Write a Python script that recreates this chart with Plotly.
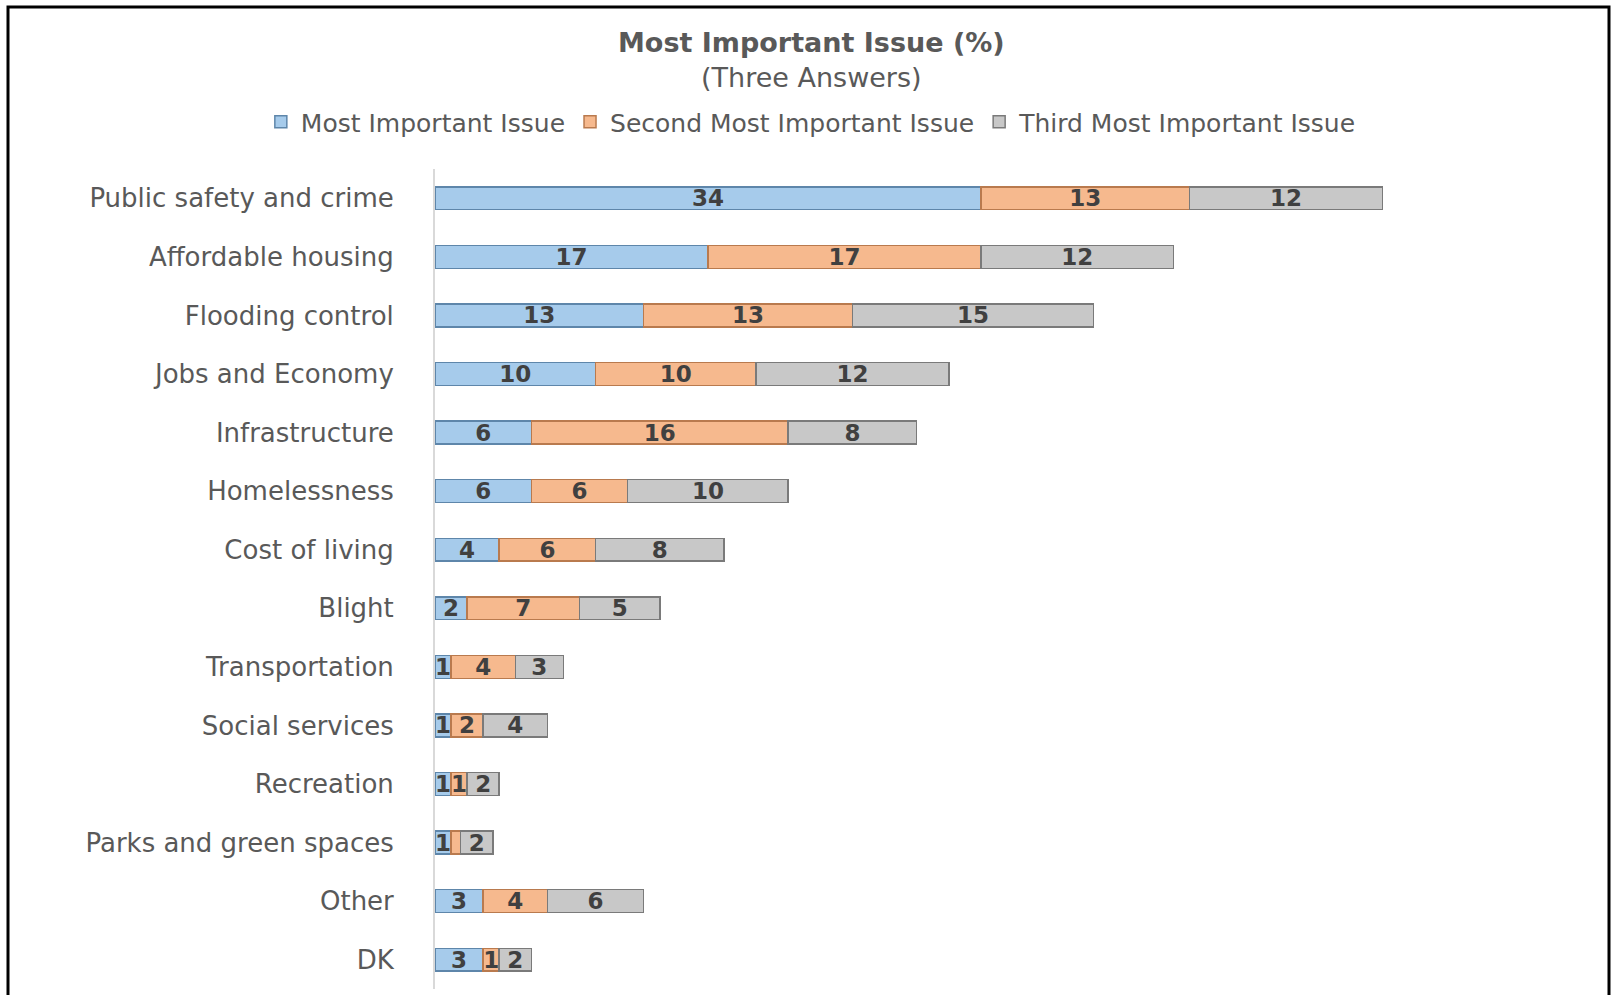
import plotly.graph_objects as go

categories = ["Public safety and crime", "Affordable housing", "Flooding control",
              "Jobs and Economy", "Infrastructure", "Homelessness", "Cost of living",
              "Blight", "Transportation", "Social services", "Recreation",
              "Parks and green spaces", "Other", "DK"]
most = [34, 17, 13, 10, 6, 6, 4, 2, 1, 1, 1, 1, 3, 3]
second = [13, 17, 13, 10, 16, 6, 6, 7, 4, 2, 1, 0.6, 4, 1]
third = [12, 12, 15, 12, 8, 10, 8, 5, 3, 4, 2, 2, 6, 2]
series_names = ["Most Important Issue", "Second Most Important Issue", "Third Most Important Issue"]

FONT = "DejaVu Sans"
fills = ["#A6CBEB", "#F6B98E", "#C8C8C8"]
edges = ["#5E86AA", "#B97A4E", "#7A7A7A"]


def labels(vals):
    return [str(int(v)) if v >= 1 else "" for v in vals]


fig = go.Figure()
for name, vals, fc, ec in zip(series_names, [most, second, third], fills, edges):
    fig.add_trace(go.Bar(
        y=categories, x=vals, name=name, orientation="h",
        marker=dict(color=fc, line=dict(color=ec, width=1.5)),
        text=labels(vals), texttemplate="%{text}", textposition="inside",
        insidetextanchor="middle", textangle=0,
        textfont=dict(family=FONT, size=23, color="#404040", weight="bold"),
        hoverinfo="skip",
    ))

fig.update_layout(
    barmode="stack",
    bargap=0.61,
    width=1613, height=995,
    margin=dict(l=435, r=38, t=169, b=6),
    paper_bgcolor="white", plot_bgcolor="white",
    title=dict(
        text="<b>Most Important Issue (%)</b><br>(Three Answers)",
        x=0.503, xref="container", xanchor="center",
        y=1 - 52 / 995, yref="container", yanchor="top",
        font=dict(family=FONT, size=27, color="#595959"),
    ),
    legend=dict(
        orientation="h", traceorder="normal",
        x=0.503, xref="container", xanchor="center",
        y=1 - 122 / 995, yref="container", yanchor="middle",
        font=dict(family=FONT, size=25, color="#595959"),
    ),
    uniformtext=dict(minsize=23, mode="show"),
    xaxis=dict(range=[0, 71], showgrid=False, zeroline=False, showticklabels=False,
               showline=False, fixedrange=True),
    yaxis=dict(autorange="reversed", showgrid=False, zeroline=False,
               showline=True, linecolor="#D9D9D9", linewidth=2, ticks="",
               ticklabelstandoff=34,
               tickfont=dict(family=FONT, size=26, color="#595959")),
    shapes=[dict(type="rect", xref="paper", yref="paper",
                 x0=(8 - 435) / 1140, x1=(1609 - 435) / 1140,
                 y0=(989 - 1005) / 820, y1=(989 - 7) / 820,
                 line=dict(color="black", width=3), fillcolor="rgba(0,0,0,0)", layer="below")],
)

fig.write_html("out.html", config={"displayModeBar": False},
               post_script="document.body.style.margin='0';")
